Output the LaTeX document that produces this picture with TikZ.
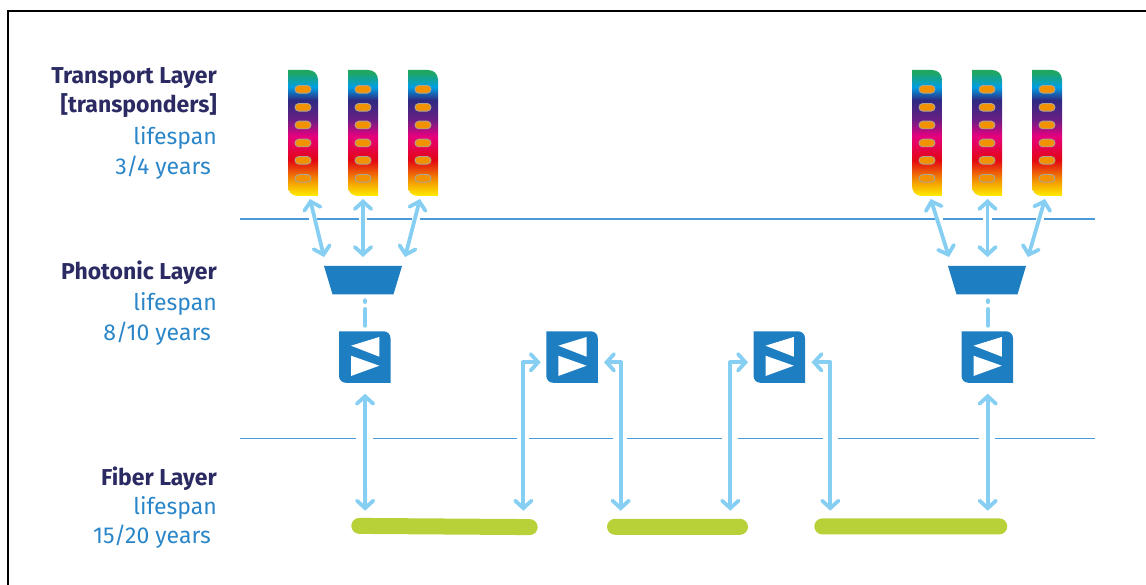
\documentclass[tikz,border=0pt]{standalone}
\usepackage{fontspec}
\setmainfont{Fira Sans}
\usetikzlibrary{arrows.meta,calc}
\definecolor{cg}{HTML}{1FA661}
\definecolor{cb}{HTML}{009FE3}
\definecolor{cn}{HTML}{2E2A82}
\definecolor{cp}{HTML}{6A1E84}
\definecolor{cm}{HTML}{E6007E}
\definecolor{cr}{HTML}{E30613}
\definecolor{co}{HTML}{F39200}
\definecolor{cy}{HTML}{FFED00}
\definecolor{pillgray}{HTML}{B0A490}
\definecolor{ampblue}{HTML}{1D7EC2}
\definecolor{linkblue}{HTML}{86CFF2}
\definecolor{ruleblue}{HTML}{4A9ADA}
\definecolor{fibergreen}{HTML}{B9D138}
\definecolor{titlenavy}{HTML}{2B2A63}
\definecolor{lifeblue}{HTML}{2A86C8}
\pgfdeclareverticalshading{cardshade}{100bp}{color(0bp)=(cy); color(25bp)=(cy); color(31.35bp)=(co); color(39.3bp)=(cr); color(48.8bp)=(cm); color(55.15bp)=(cp); color(63.1bp)=(cn); color(68.25bp)=(cb); color(74bp)=(cg); color(100bp)=(cg)}
\tikzset{
  anchorbox/.style={inner sep=0pt,outer sep=0pt,minimum width=#1},
  link/.style={draw=linkblue,line width=3.8pt,line join=round,
    {Straight Barb[length=7.5pt,width=16.5pt,line cap=round]}-{Straight Barb[length=7.5pt,width=16.5pt,line cap=round]}},
  dotlink/.style={draw=linkblue,line width=4pt,line cap=round,dash pattern=on 1.7pt off 7pt on 16.7pt off 5pt},
  layerrule/.style={draw=ruleblue,line width=1.5pt},
  title/.style={anchor=base east,inner sep=0pt,font=\fontsize{23}{27}\selectfont\bfseries,text=titlenavy},
  life/.style={anchor=base east,inner sep=0pt,font=\fontsize{23}{27}\selectfont,text=lifeblue},
  pill/.style={draw=pillgray,line width=0.9pt,fill=co,rounded corners=3.8pt},
  fiber/.style={fill=fibergreen,rounded corners=8pt,inner sep=0pt,outer sep=0pt,minimum height=16pt},
  frameline/.style={draw=black,line width=2.2pt}
}
\newcommand{\cardat}[2]{%
  \node[anchorbox=30pt,minimum height=126pt] (#1) at (#2+15,133) {};
  \path[shading=cardshade]
    (#2,70) -- (#2+20,70) .. controls (#2+26,70) and (#2+30,74) .. (#2+30,80)
    -- (#2+30,196) -- (#2+10,196) .. controls (#2+4,196) and (#2,192) .. (#2,186) -- cycle;
  \foreach \py in {89.3,107.3,125,143,160.3,178.3}
    \draw[pill] (#2+7,\py-3.8) rectangle (#2+23,\py+3.8);
}
\newcommand{\ampat}[2]{%
  \node[anchorbox=51.5pt,minimum height=51.5pt] (#1) at (#2+25.75,357) {};
  \fill[ampblue]
    (#2,331.3) -- (#2+44.5,331.3) .. controls (#2+48.5,331.3) and (#2+51.5,334.3) .. (#2+51.5,338.3)
    -- (#2+51.5,382.8) -- (#2+7,382.8) .. controls (#2+3,382.8) and (#2,379.8) .. (#2,375.8) -- cycle;
  \fill[white] (#2+12,345.7) -- (#2+40.3,337) -- (#2+40.3,356.7) -- cycle;
  \fill[white] (#2+12,355.7) -- (#2+40.3,365.7) -- (#2+12,376) -- cycle;
}
\newcommand{\muxat}[2]{%
  \node[anchorbox=78pt,minimum height=28.3pt] (#1) at (#2,280.2) {};
  \fill[ampblue] (#2-39,266) -- (#2+39,266) -- (#2+30.5,294.3) -- (#2-30.5,294.3) -- cycle;
}
\begin{document}
\begin{tikzpicture}[x=1pt,y=-1pt]
\useasboundingbox (0,0) rectangle (1146,585);
% frame
\coordinate (fbl) at (8,585);
\coordinate (ftl) at (8,11);
\coordinate (ftr) at (1146,11);
\draw[frameline] (fbl) -- (ftl) -- (ftr);
% rules
\foreach \a/\b in {240/308.7,317.3/359.3,367.3/412,420/935,943.3/983.3,991.7/1036,1044/1095}
  \draw[layerrule] (\a,219) -- (\b,219);
\foreach \a/\b in {240/355.7,373/517,529.3/613.3,627/722.3,738.3/822.7,838.3/979.3,995.3/1095}
  \draw[layerrule] (\a,438.3) -- (\b,438.3);
% labels
\node[title] (t1) at (217,83.3) {Transport Layer};
\node[title] (t2) at (217,113) {[transponders]};
\node[life] (t3) at (217,144.5) {lifespan};
\node[life] (t4) at (211,175) {3/4 years};
\node[title] (p1) at (217,280) {Photonic Layer};
\node[life] (p2) at (217,311) {lifespan};
\node[life] (p3) at (211,340.7) {8/10 years};
\node[title] (f1) at (217,485.7) {Fiber Layer};
\node[life] (f2) at (217,514.3) {lifespan};
\node[life] (f3) at (211,543.3) {15/20 years};
% cards
\cardat{ca}{288}
\cardat{cb}{348}
\cardat{cc}{408}
\cardat{cd}{912}
\cardat{ce}{972}
\cardat{cf}{1032}
% mux
\muxat{ma}{363}
\muxat{mb}{987}
% amps
\ampat{aa}{339}
\ampat{ab}{546.3}
\ampat{ac}{753.5}
\ampat{ad}{961.5}
% fibers
\node[fiber,minimum width=186.4pt,rotate=-0.4] (fa) at (444.5,526.5) {};
\node[fiber,minimum width=141pt] (fb) at (677.5,526.8) {};
\node[fiber,minimum width=193pt] (fc) at (910.8,526.4) {};
% links transport-photonic
\draw[link] ([shift={(7,3)}]ca.south) -- ([shift={(-39,-9)}]ma.north);
\draw[link] ([shift={(0,3)}]cb.south) -- ([shift={(0,-9)}]ma.north);
\draw[link] ([shift={(-3,3)}]cc.south) -- ([shift={(42,-9)}]ma.north);
\draw[link] ([shift={(3.7,3)}]cd.south) -- ([shift={(-38,-9)}]mb.north);
\draw[link] ([shift={(0.5,3)}]ce.south) -- ([shift={(0.5,-9)}]mb.north);
\draw[link] ([shift={(-2,3)}]cf.south) -- ([shift={(41,-9)}]mb.north);
% mux-amp
\draw[dotlink] ([shift={(2,6)}]ma.south) -- ([shift={(0.25,-5)}]aa.north);
\draw[dotlink] ([shift={(0.7,6)}]mb.south) -- ([shift={(0.45,-5)}]ad.north);
% amp-fiber
\draw[link] ([shift={(0.3,11)}]aa.south) -- ([shift={(-79.45,-7.8)}]fa.north);
\draw[link] ([shift={(78.8,-7.8)}]fa.north) |- ([shift={(-5.6,5.3)}]ab.west);
\draw[link] ([shift={(-56.8,-8.1)}]fb.north) |- ([shift={(6.2,5.3)}]ab.east);
\draw[link] ([shift={(52.8,-8.1)}]fb.north) |- ([shift={(-5.5,5.3)}]ac.west);
\draw[link] ([shift={(-80.5,-7.7)}]fc.north) |- ([shift={(6.5,5.3)}]ac.east);
\draw[link] ([shift={(0.5,11)}]ad.south) -- ([shift={(76.95,-7.7)}]fc.north);
\end{tikzpicture}
\end{document}
